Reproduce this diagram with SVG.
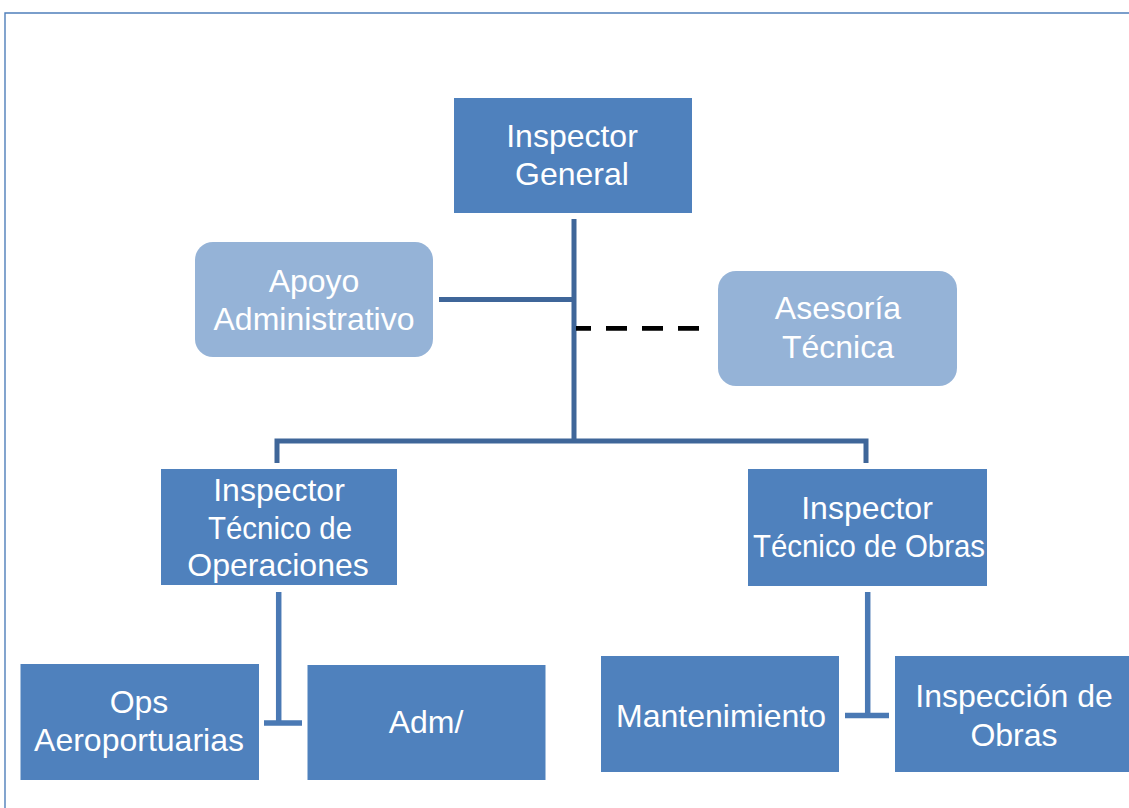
<svg xmlns="http://www.w3.org/2000/svg" width="1129" height="808" viewBox="0 0 1129 808">
  <style>
    .box { fill: #4F81BD; }
    .soft { fill: #95B3D7; }
    .lbl { font-family: "Liberation Sans", Arial, sans-serif; font-size: 32px; fill: #FFFFFF; text-anchor: middle; }
    .link { stroke: #3F6699; stroke-width: 5; fill: none; }
    .link2 { stroke: #4A79B4; stroke-width: 5.5; fill: none; }
    .dash { stroke: #000000; stroke-width: 4.7; fill: none; }
    .frame { stroke: #4F7FBA; stroke-width: 1.4; fill: none; }
  </style>

  <rect x="0" y="0" width="1129" height="808" fill="#FFFFFF"/>

  <!-- page frame -->
  <path class="frame" d="M5 808 V13 H1129"/>

  <!-- connectors -->
  <g id="connectors">
    <path class="link" d="M574 219 V441"/>
    <path class="link" d="M439 299.5 H574"/>
    <path class="dash" d="M576 328.3 H699" stroke-dasharray="15 15 21 15 21 15 21"/>
    <path class="link" d="M277 463 V441 H866 V463"/>
    <path class="link2" d="M278.7 592 V723 M264 723 H302"/>
    <path class="link2" d="M867.7 592 V715.5 M845 715.5 H889"/>
  </g>

  <g id="inspector-general">
    <rect class="box" x="454" y="98" width="238" height="115"/>
    <text class="lbl" x="572" y="147">Inspector</text>
    <text class="lbl" x="572" y="185">General</text>
  </g>

  <g id="apoyo-administrativo">
    <rect class="soft" x="195" y="242" width="238" height="115" rx="18"/>
    <text class="lbl" x="314" y="292">Apoyo</text>
    <text class="lbl" x="314" y="330">Administrativo</text>
  </g>

  <g id="asesoria-tecnica">
    <rect class="soft" x="718" y="271" width="239" height="115" rx="18"/>
    <text class="lbl" x="838" y="319">Asesoría</text>
    <text class="lbl" x="838" y="358">Técnica</text>
  </g>

  <g id="inspector-operaciones">
    <rect class="box" x="161" y="469" width="236" height="116"/>
    <text class="lbl" x="279" y="501">Inspector</text>
    <text class="lbl" x="280" y="539" textLength="144" lengthAdjust="spacingAndGlyphs">Técnico de</text>
    <text class="lbl" x="278" y="576">Operaciones</text>
  </g>

  <g id="inspector-obras">
    <rect class="box" x="748" y="469" width="239" height="117"/>
    <text class="lbl" x="867" y="519">Inspector</text>
    <text class="lbl" x="869" y="557" textLength="232" lengthAdjust="spacingAndGlyphs">Técnico de Obras</text>
  </g>

  <g id="ops-aeroportuarias">
    <rect class="box" x="20.5" y="664" width="238.5" height="116"/>
    <text class="lbl" x="139" y="713">Ops</text>
    <text class="lbl" x="139" y="751">Aeroportuarias</text>
  </g>

  <g id="adm">
    <rect class="box" x="307.5" y="665" width="238" height="115"/>
    <text class="lbl" x="426" y="733">Adm/</text>
  </g>

  <g id="mantenimiento">
    <rect class="box" x="601" y="656" width="238" height="116"/>
    <text class="lbl" x="721" y="727">Mantenimiento</text>
  </g>

  <g id="inspeccion-obras">
    <rect class="box" x="895" y="656" width="238" height="116"/>
    <text class="lbl" x="1014" y="707">Inspección de</text>
    <text class="lbl" x="1014" y="746">Obras</text>
  </g>
</svg>
